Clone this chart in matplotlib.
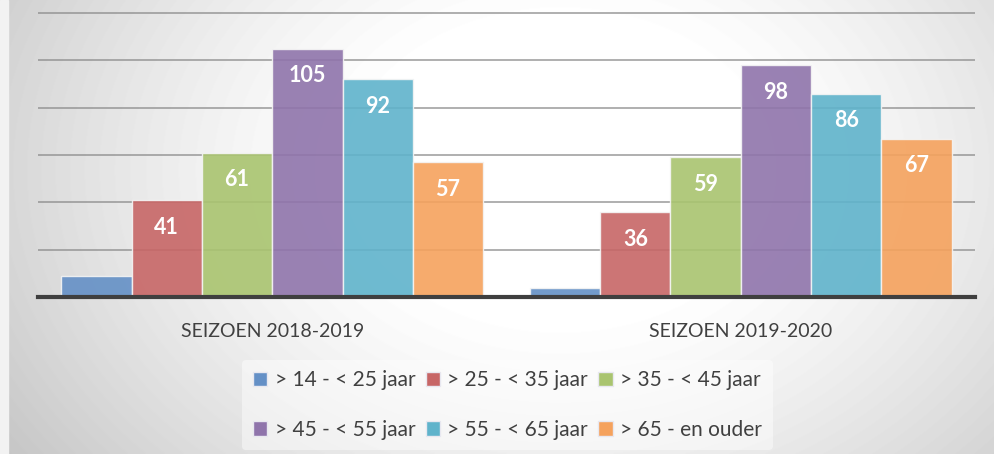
import numpy as np
import matplotlib
matplotlib.use("Agg")
import matplotlib.pyplot as plt
from matplotlib.patches import Patch

plt.rcParams['font.family'] = ['Lato', 'DejaVu Sans']

seasons = ["SEIZOEN 2018-2019", "SEIZOEN 2019-2020"]
age_groups = ["> 14 - < 25 jaar", "> 25 - < 35 jaar", "> 35 - < 45 jaar",
              "> 45 - < 55 jaar", "> 55 - < 65 jaar", "> 65 - en ouder"]
counts = [
    [9, 41, 61, 105, 92, 57],   # 2018-2019
    [4, 36, 59, 98, 86, 67],    # 2019-2020
]
show_label = [False, True, True, True, True, True]
colors = ["#6490c6", "#c76666", "#a9c46f", "#8f74ab", "#5fb3cb", "#f5a25d"]

fig = plt.figure(figsize=(9.95, 4.54), dpi=100)

# background gradient (light in the middle, gray at the edges)
bg = fig.add_axes([0, 0, 1, 1], zorder=-10)
yy, xx = np.mgrid[0:454, 0:995]
r = np.sqrt(((xx - 560) / 560.0) ** 2 + ((yy - 170) / 420.0) ** 2)
shade = np.clip(1.0 - 0.28 * np.clip(r - 0.35, 0, None) ** 1.3, 0.72, 1.0)
bg.imshow(shade, cmap="gray", vmin=0, vmax=1, aspect="auto")
bg.axvspan(-0.5, 7.5, color="#f2f2f2")
bg.set_xlim(-0.5, 994.5)
bg.set_ylim(453.5, -0.5)
bg.axis("off")

ax = fig.add_axes([0.0382, 0.3458, 0.9417, 0.6278])
ax.patch.set_alpha(0)

n = len(age_groups)
width = 0.9 / n
x = np.arange(len(seasons))
for i in range(n):
    vals = [c[i] for c in counts]
    pos = x - 0.45 + width * (i + 0.5)
    bars = ax.bar(pos, vals, width, color=colors[i], alpha=0.9,
                  edgecolor="#f4f4f4", linewidth=1.0, zorder=2,
                  label=age_groups[i])
    if show_label[i]:
        for b, v in zip(bars, vals):
            ax.text(b.get_x() + b.get_width() / 2, v - 11.5, str(v),
                    ha="center", va="center", color="white",
                    fontsize=15.5, fontweight="bold", zorder=4)

ax.set_xlim(-0.5, 1.5)
ax.set_ylim(0, 120.5)
ax.set_yticks(np.arange(20, 121, 20))
ax.yaxis.grid(True, color="#8c8c8c", linewidth=1.3, zorder=1, alpha=0.75)
ax.set_axisbelow(True)
ax.tick_params(axis="y", left=False, labelleft=False)
ax.tick_params(axis="x", bottom=False, labelsize=14, colors="#404040", pad=15)
ax.set_xticks(x)
ax.set_xticklabels(seasons)
for s in ["top", "right", "left"]:
    ax.spines[s].set_visible(False)
ax.spines["bottom"].set_color("#3f3f3f")
ax.spines["bottom"].set_linewidth(3)
ax.spines["bottom"].set_zorder(5)

# legend fills column by column, so reorder to read row by row
order = [0, 3, 1, 4, 2, 5]
handles = [Patch(facecolor=colors[k], edgecolor="#e8e8f0", linewidth=1.0) for k in order]
labels = [age_groups[k] for k in order]
leg = fig.legend(handles, labels, loc="center", ncol=3,
                 bbox_to_anchor=(0.51, 0.108), frameon=True,
                 fontsize=15, labelcolor="#404040",
                 handlelength=0.7, handleheight=0.7, handletextpad=0.35,
                 columnspacing=0.5, labelspacing=1.4, borderpad=0.5)
leg.get_frame().set_facecolor("white")
leg.get_frame().set_alpha(0.45)
leg.get_frame().set_edgecolor("none")

fig.savefig("out.png", dpi=100)
